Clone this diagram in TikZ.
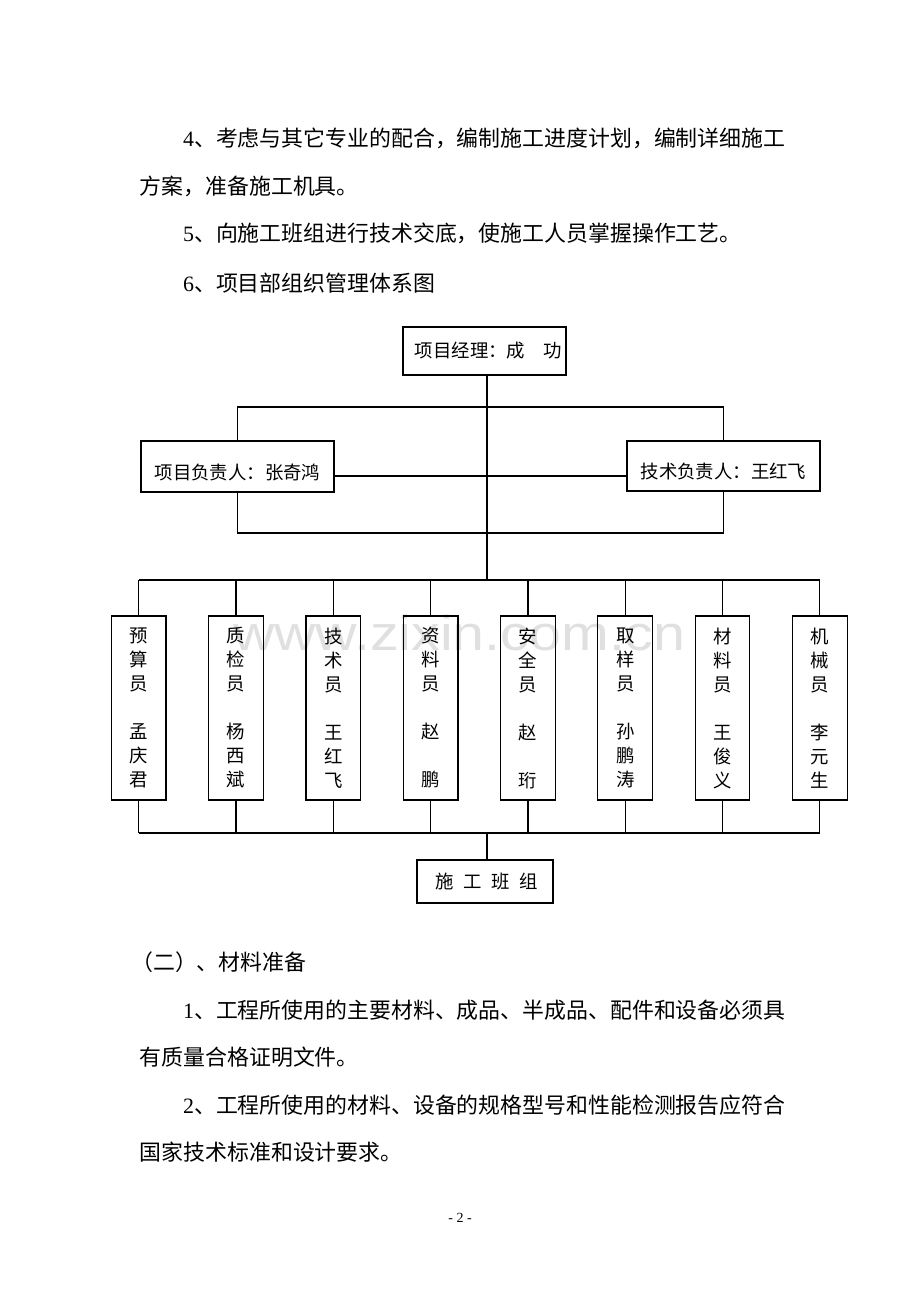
\documentclass[tikz,border=0pt]{standalone}
\usepackage{fontspec}
\setmainfont{Liberation Serif}
\newfontfamily\cjk{Noto Sans CJK SC}
\newfontfamily\wmfont{Liberation Sans}
\newcommand\ls[1]{{\rmfamily #1}}
\newcommand\dn[1]{\raisebox{-6pt}[\height][\depth]{#1}}
\begin{document}
\begin{tikzpicture}[x=1pt,y=-1pt,
  box/.style={draw, line width=1.2pt, inner sep=0pt, font=\fontsize{18.4}{24}\cjk},
  tall/.style={box, minimum width=54.7pt, minimum height=184pt, align=center},
  body/.style={anchor=west, inner sep=0pt, font=\fontsize{21.9}{26}\cjk},
  conn/.style={line width=1.2pt}]
\useasboundingbox (0,0) rectangle (920,1302);
\fill[white] (0,0) rectangle (920,1302);

% watermark
\node[anchor=base west, inner sep=0pt, text=black!12, font=\fontsize{49}{49}\wmfont] (wm) at (233,650) {\scalebox{1.17}[1]{www.zixin.com.cn}};

% body text
\node[body] (t1) at (183,138) {\ls{4}、考虑与其它专业的配合，编制施工进度计划，编制详细施工};
\node[body] (t2) at (139.5,186) {方案，准备施工机具。};
\node[body] (t3) at (183,233) {\ls{5}、向施工班组进行技术交底，使施工人员掌握操作工艺。};
\node[body] (t4) at (183,283) {\ls{6}、项目部组织管理体系图};
\node[body] (t5) at (131,962) {（二）、材料准备};
\node[body] (t6) at (183,1010) {\ls{1}、工程所使用的主要材料、成品、半成品、配件和设备必须具};
\node[body] (t7) at (139.5,1057) {有质量合格证明文件。};
\node[body] (t8) at (183,1105) {\ls{2}、工程所使用的材料、设备的规格型号和性能检测报告应符合};
\node[body] (t9) at (139.5,1152) {国家技术标准和设计要求。};
\node[inner sep=0pt, font=\fontsize{14}{16}\rmfamily] (pg) at (460,1218) {- 2 -};

% chart
\node[box, minimum width=163pt, minimum height=48pt] (top) at (484.5,351) {\hspace*{8pt}项目经理：成　功};
\node[box, minimum width=193pt, minimum height=51pt] (left) at (237.5,466.5) {\dn{项目负责人：张奇鸿}};
\node[box, minimum width=193pt, minimum height=50pt] (right) at (723.5,466) {\dn{技术负责人：王红飞}};

\node[tall] (b1) at (138.7,708) {预\\算\\员\\[24pt]孟\\庆\\君};
\node[tall] (b2) at (236.0,708) {质\\检\\员\\[24pt]杨\\西\\斌};
\node[tall] (b3) at (333.3,708) {技\\术\\员\\[24pt]王\\红\\飞};
\node[tall] (b4) at (430.6,708) {资\\料\\员\\[24pt]赵\\[24pt]鹏};
\node[tall] (b5) at (527.9,708) {安\\全\\员\\[24pt]赵\\[24pt]珩};
\node[tall] (b6) at (625.2,708) {取\\样\\员\\[24pt]孙\\鹏\\涛};
\node[tall] (b7) at (722.5,708) {材\\料\\员\\[24pt]王\\俊\\义};
\node[tall] (b8) at (819.8,708) {机\\械\\员\\[24pt]李\\元\\生};

\node[box, minimum width=136pt, minimum height=43pt] (crew) at (485,881.5) {\hspace*{3pt}施\hspace{9.6pt}工\hspace{9.6pt}班\hspace{9.6pt}组};

\coordinate (c) at (487,0);
\coordinate (ub) at (487,407);
\coordinate (mid) at (487,476);
\coordinate (lb) at (487,533);
\coordinate (bus) at (487,580);
\coordinate (bbus) at (487,833);

\draw[conn] (top.south -| c) -- (bus);
\draw[conn] (left.north) -- (left.north |- ub) -- (right.north |- ub) -- (right.north);
\draw[conn] (left.south) -- (left.south |- lb) -- (right.south |- lb) -- (right.south);
\draw[conn] (left.east |- mid) -- (right.west |- mid);
\draw[conn] (b1.north |- bus) -- (b8.north |- bus);
\draw[conn] (b1.south |- bbus) -- (b8.south |- bbus);
\foreach \k in {1,...,8} {
  \draw[conn] (b\k.north) -- (b\k.north |- bus);
  \draw[conn] (b\k.south) -- (b\k.south |- bbus);
}
\draw[conn] (bbus) -- (crew.north -| c);
\end{tikzpicture}
\end{document}
